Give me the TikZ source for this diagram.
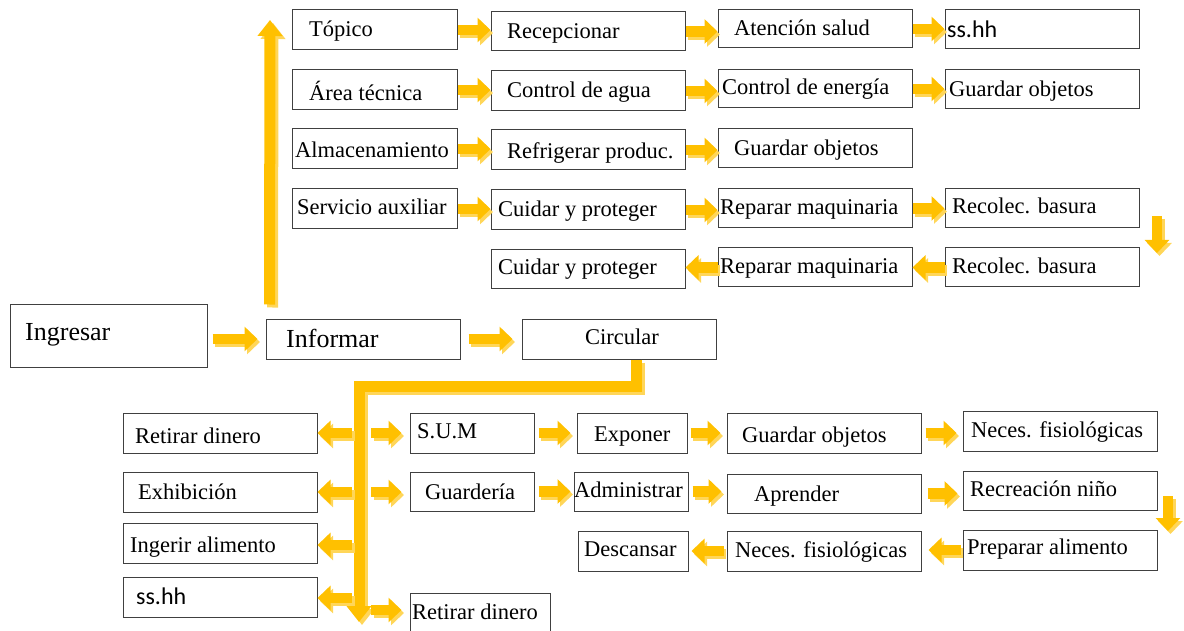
\documentclass[tikz,border=0pt]{standalone}
\usepackage{fontspec}
\setmainfont{Liberation Serif}
\newfontfamily\sansf{Carlito}
\usetikzlibrary{arrows.meta,fit,calc}
\definecolor{amber}{HTML}{FFC000}
\definecolor{amberlt}{HTML}{FFD659}
\begin{document}
\begin{tikzpicture}[x=1pt,y=-1pt,
  box/.style={draw=black!75, line width=1pt, inner sep=0pt},
  txt/.style={anchor=west, inner sep=0pt, yshift=-2pt, font=\fontsize{22.5}{26}\selectfont, text height=15pt, text depth=5pt},
  bigtxt/.style={txt, font=\fontsize{26}{30}\selectfont},
  sanstxt/.style={txt, font=\sansf\fontsize{24}{28}\selectfont},
  barrow/.style={line width=10.5pt, draw=amber, -{Triangle[length=13pt,width=24pt]},
    preaction={draw=amberlt, line width=10.5pt, -{Triangle[length=13pt,width=24pt]},
      transform canvas={shift={(2.5pt,-3pt)}}}},
  bigarrow/.style={line width=11pt, draw=amber, line join=miter, -{Triangle[length=16pt,width=24pt]},
    preaction={draw=amberlt, line width=11pt, line join=miter, -{Triangle[length=16pt,width=24pt]},
      transform canvas={shift={(3pt,-3pt)}}}}
]
\useasboundingbox (0,0) rectangle (1184,631);

% ---- upper block ----
\node[box, fit={(292,10) (457,50)}] (topico) {};
\node[txt] (topico-t) at (309,30) {Tópico};
\node[box, fit={(491,12) (685,51)}] (recep) {};
\node[txt] (recep-t) at (507,32) {Recepcionar};
\node[box, fit={(718,10) (912,48)}] (atenc) {};
\node[txt] (atenc-t) at (734,29) {Atención salud};
\node[box, fit={(945,10) (1139,49)}] (sshh1) {};
\node[sanstxt] (sshh1-t) at (947,31) {ss.hh};

\node[box, fit={(292,70) (457,110)}] (area) {};
\node[txt] (area-t) at (309,94) {Área técnica};
\node[box, fit={(491,71) (685,111)}] (cagua) {};
\node[txt] (cagua-t) at (507,91) {Control de agua};
\node[box, fit={(718,70) (912,108)}] (cener) {};
\node[txt] (cener-t) at (722,88) {Control de energía};
\node[box, fit={(945,70) (1139,109)}] (guard1) {};
\node[txt] (guard1-t) at (949,90) {Guardar objetos};

\node[box, fit={(292,129) (457,169)}] (almac) {};
\node[txt] (almac-t) at (295,151) {Almacenamiento};
\node[box, fit={(491,130) (685,170)}] (refri) {};
\node[txt] (refri-t) at (507,152) {Refrigerar produc.};
\node[box, fit={(718,129) (912,168)}] (guard2) {};
\node[txt] (guard2-t) at (734,149) {Guardar objetos};

\node[box, fit={(292,189) (457,229)}] (servi) {};
\node[txt] (servi-t) at (297,208) {Servicio auxiliar};
\node[box, fit={(491,190) (685,230)}] (cuida1) {};
\node[txt] (cuida1-t) at (498,210) {Cuidar y proteger};
\node[box, fit={(718,189) (912,228)}] (repar1) {};
\node[txt] (repar1-t) at (720,208) {Reparar maquinaria};
\node[box, fit={(945,189) (1139,228)}] (recol1) {};
\node[txt] (recol1-t) at (952,207) {Recolec. basura};

\node[box, fit={(491,250) (685,289)}] (cuida2) {};
\node[txt] (cuida2-t) at (498,268) {Cuidar y proteger};
\node[box, fit={(718,248) (912,287)}] (repar2) {};
\node[txt] (repar2-t) at (720,267) {Reparar maquinaria};
\node[box, fit={(945,248) (1139,287)}] (recol2) {};
\node[txt] (recol2-t) at (952,266) {Recolec. basura};

% ---- middle row ----
\node[box, fit={(10,304) (207,367)}] (ingre) {};
\node[bigtxt] (ingre-t) at (25,333) {Ingresar};
\node[box, fit={(266,319) (460,359)}] (infor) {};
\node[bigtxt] (infor-t) at (286,340) {Informar};
\node[box, fit={(522,319) (716,359)}] (circ) {};
\node[txt] (circ-t) at (585,337) {Circular};

% ---- lower block ----
\node[box, fit={(123,413) (317,453)}] (retir1) {};
\node[txt] (retir1-t) at (135,436) {Retirar dinero};
\node[box, fit={(123,472) (317,512)}] (exhib) {};
\node[txt] (exhib-t) at (138,492) {Exhibición};
\node[box, fit={(123,523) (317,563)}] (inger) {};
\node[txt] (inger-t) at (130,545) {Ingerir alimento};
\node[box, fit={(123,577) (317,617)}] (sshh2) {};
\node[sanstxt] (sshh2-t) at (136,597) {ss.hh};

\node[box, fit={(410,413) (534,453)}] (sum) {};
\node[txt] (sum-t) at (417,431) {S.U.M};
\node[box, fit={(410,472) (534,511)}] (guarde) {};
\node[txt] (guarde-t) at (425,492) {Guardería};
\node[box, fit={(410,593) (550,640)}] (retir2) {};
\node[txt] (retir2-t) at (412,612) {Retirar dinero};

\node[box, fit={(577,413) (687,453)}] (expon) {};
\node[txt] (expon-t) at (594,434) {Exponer};
\node[box, fit={(574,472) (688,511)}] (admin) {};
\node[txt] (admin-t) at (574,490) {Administrar};
\node[box, fit={(578,531) (688,571)}] (desca) {};
\node[txt] (desca-t) at (584,549) {Descansar};

\node[box, fit={(727,413) (921,453)}] (guard3) {};
\node[txt] (guard3-t) at (742,435) {Guardar objetos};
\node[box, fit={(727,474) (921,513)}] (apren) {};
\node[txt] (apren-t) at (754,494) {Aprender};
\node[box, fit={(727,531) (921,571)}] (neces1) {};
\node[txt] (neces1-t) at (735,550) {Neces. fisiológicas};

\node[box, fit={(963,411) (1157,451)}] (neces2) {};
\node[txt] (neces2-t) at (971,430) {Neces. fisiológicas};
\node[box, fit={(963,471) (1157,510)}] (recre) {};
\node[txt] (recre-t) at (970,489) {Recreación niño};
\node[box, fit={(963,530) (1157,570)}] (prepa) {};
\node[txt] (prepa-t) at (967,547) {Preparar alimento};

% ---- free ends of the connectors ----
\coordinate (upend) at (270,20);
\coordinate (down1a) at (1157,216);
\coordinate (down1b) at (1157,253);
\coordinate (down2a) at (1168,496);
\coordinate (down2b) at (1168,531);
\coordinate (lend) at (359,622);
\foreach \n/\y in {1/433,2/492,3/545,4/598}
  \coordinate (vl\n) at (352,\y);
\foreach \n/\y in {1/433,2/492,3/610}
  \coordinate (vr\n) at (371,\y);

% ---- main connectors ----
\draw[bigarrow] ($(infor.north west)+(4,-14)$) -- (upend);
\draw[bigarrow] ($(circ.south)+(17,0)$) -- ++(0,27) -| (lend);

% ---- upper block arrows ----
\draw[barrow] (topico.east) -- (topico.east -| recep.west);
\draw[barrow] (recep.east) -- (recep.east -| atenc.west);
\draw[barrow] (atenc.east) -- (atenc.east -| sshh1.west);
\draw[barrow] (area.east) -- (area.east -| cagua.west);
\draw[barrow] (cagua.east) -- (cagua.east -| cener.west);
\draw[barrow] (cener.east) -- (cener.east -| guard1.west);
\draw[barrow] (almac.east) -- (almac.east -| refri.west);
\draw[barrow] (refri.east) -- (refri.east -| guard2.west);
\draw[barrow] (servi.east) -- (servi.east -| cuida1.west);
\draw[barrow] (cuida1.east) -- (cuida1.east -| repar1.west);
\draw[barrow] (repar1.east) -- (repar1.east -| recol1.west);
\draw[barrow] (down1a) -- (down1b);
\draw[barrow] (recol2.west) -- (recol2.west -| repar2.east);
\draw[barrow] (repar2.west) -- (repar2.west -| cuida2.east);

% ---- middle row arrows ----
\draw[barrow, shorten <=5pt, shorten >=8pt] (ingre.east |- infor.west) -- (infor.west);
\draw[barrow, shorten <=8pt, shorten >=9pt] (infor.east) -- (circ.west);

% ---- lower block arrows ----
\draw[barrow] (vl1) -- (vl1 -| retir1.east);
\draw[barrow] (vl2) -- (vl2 -| exhib.east);
\draw[barrow] (vl3) -- (vl3 -| inger.east);
\draw[barrow] (vl4) -- (vl4 -| sshh2.east);
\draw[barrow, shorten >=8pt] (vr1) -- (vr1 -| sum.west);
\draw[barrow, shorten >=8pt] (vr2) -- (vr2 -| guarde.west);
\draw[barrow, shorten >=8pt] (vr3) -- (vr3 -| retir2.west);

\draw[barrow, shorten <=4pt, shorten >=6pt] (sum.east) -- (sum.east -| expon.west);
\draw[barrow, shorten <=3pt, shorten >=6pt] (expon.east) -- (expon.east -| guard3.west);
\draw[barrow, shorten <=4pt, shorten >=6pt] (guard3.east) -- (guard3.east -| neces2.west);
\draw[barrow, shorten <=4pt, shorten >=3pt] (guarde.east) -- (guarde.east -| admin.west);
\draw[barrow, shorten <=4pt, shorten >=5pt] (admin.east) -- (admin.east -| apren.west);
\draw[barrow, shorten <=6pt, shorten >=5pt] (apren.east) -- (apren.east -| recre.west);
\draw[barrow] (down2a) -- (down2b);
\draw[barrow, shorten <=2pt, shorten >=7pt] (prepa.west) -- (prepa.west -| neces1.east);
\draw[barrow, shorten <=3pt, shorten >=3pt] (neces1.west) -- (neces1.west -| desca.east);
\end{tikzpicture}
\end{document}
